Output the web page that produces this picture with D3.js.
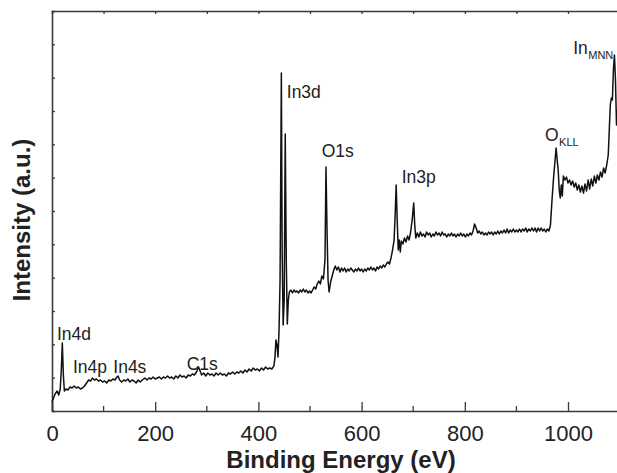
<!DOCTYPE html>
<html>
<head>
<meta charset="utf-8">
<script src="https://cdn.jsdelivr.net/npm/d3@7"></script>
<style>
  html, body { margin: 0; padding: 0; background: #fff; }
  svg { display: block; font-family: "Liberation Sans", Arial, Helvetica, sans-serif; }
</style>
</head>
<body>
<svg id="chart" width="617" height="473"></svg>
<script>
// XPS survey spectrum: binding energy (eV) and intensity (arbitrary units)
const bindingEnergy = [
  0, 3, 6, 10, 13, 16, 18, 20, 22, 24, 27, 31, 35, 39, 43, 47, 51, 55, 59, 63,
  67, 71, 75, 78, 82, 86, 90, 94, 98, 102, 106, 110, 114, 118, 122, 126, 128, 131, 135, 139,
  143, 147, 151, 155, 159, 163, 167, 171, 175, 180, 184, 188, 192, 196, 200, 204, 208, 212, 216, 220,
  224, 228, 232, 236, 240, 244, 248, 252, 256, 260, 264, 268, 272, 276, 280, 284, 287, 290, 294, 298,
  302, 306, 310, 314, 318, 322, 326, 330, 334, 338, 342, 346, 350, 354, 358, 362, 366, 370, 374, 378,
  382, 386, 390, 394, 398, 402, 406, 410, 414, 418, 422, 426, 430, 432, 434, 436, 438, 440, 442, 444.5,
  446, 448, 450, 452, 454, 456, 458, 460, 463, 466, 469, 472, 475, 478, 481, 484, 487, 490, 493, 496,
  499, 502, 505, 508, 511, 514, 517, 520, 523, 526, 529, 531, 533, 535, 537, 540, 543, 546, 549, 552,
  555, 558, 561, 564, 567, 570, 573, 576, 579, 582, 585, 588, 591, 594, 597, 600, 603, 606, 609, 612,
  615, 618, 621, 624, 627, 630, 633, 636, 639, 642, 645, 648, 651, 654, 657, 660, 663, 665, 667, 669,
  671, 673, 675, 677, 680, 683, 686, 689, 692, 695, 698, 701, 703, 705, 708, 711, 714, 717, 720, 723,
  726, 729, 732, 735, 738, 741, 744, 747, 750, 753, 756, 759, 762, 765, 768, 771, 774, 777, 780, 783,
  786, 789, 792, 795, 798, 801, 804, 807, 810, 813, 816, 819, 822, 825, 828, 831, 834, 837, 840, 843,
  846, 849, 852, 855, 858, 861, 864, 867, 870, 873, 876, 879, 882, 885, 888, 891, 894, 897, 900, 903,
  906, 909, 912, 915, 918, 921, 924, 927, 930, 933, 936, 939, 942, 945, 948, 951, 954, 957, 960, 963,
  966, 969, 972, 975, 977, 979, 981, 983, 985, 987, 989, 991, 994, 997, 1000, 1003, 1006, 1009, 1012, 1015,
  1018, 1021, 1024, 1027, 1030, 1033, 1036, 1039, 1042, 1045, 1048, 1051, 1054, 1057, 1060, 1063, 1066, 1069, 1072, 1075,
  1078, 1080, 1082, 1084, 1086, 1088, 1090, 1092, 1094, 1096
];
const intensity = [
  27, 39, 51, 60, 48, 66, 123, 204, 108, 60, 66, 63, 72, 69, 75, 69, 72, 66, 69, 75,
  84, 93, 90, 99, 93, 96, 90, 93, 87, 90, 84, 93, 90, 96, 93, 102, 105, 93, 87, 93,
  90, 96, 87, 93, 90, 84, 93, 87, 93, 99, 93, 99, 96, 102, 96, 99, 102, 96, 102, 99,
  105, 99, 102, 96, 105, 99, 108, 102, 105, 99, 108, 105, 111, 108, 117, 132, 120, 108, 114, 105,
  114, 108, 111, 105, 114, 108, 114, 108, 111, 105, 114, 111, 117, 111, 117, 114, 120, 114, 123, 117,
  126, 120, 129, 123, 126, 120, 129, 123, 132, 126, 129, 126, 135, 159, 213, 198, 162, 243, 393, 1014,
  483, 258, 333, 831, 453, 261, 333, 357, 363, 354, 363, 357, 360, 354, 363, 357, 366, 357, 363, 354,
  360, 354, 363, 372, 366, 381, 390, 381, 405, 396, 453, 732, 543, 393, 357, 387, 405, 423, 435, 423,
  432, 417, 429, 420, 429, 417, 426, 420, 429, 423, 417, 426, 420, 429, 420, 426, 417, 426, 420, 429,
  423, 432, 423, 429, 420, 432, 426, 435, 429, 438, 432, 441, 447, 441, 459, 483, 513, 588, 678, 573,
  483, 513, 477, 510, 501, 519, 507, 525, 513, 537, 573, 624, 558, 519, 534, 522, 537, 525, 531, 522,
  537, 528, 534, 522, 531, 525, 537, 528, 534, 525, 537, 528, 531, 522, 531, 525, 534, 525, 531, 522,
  531, 525, 534, 525, 531, 522, 531, 525, 534, 528, 540, 561, 549, 534, 540, 531, 537, 528, 534, 528,
  537, 531, 537, 528, 537, 531, 540, 531, 540, 534, 543, 534, 546, 534, 543, 537, 546, 537, 543, 537,
  546, 537, 546, 540, 549, 537, 546, 540, 549, 540, 549, 537, 549, 540, 549, 540, 546, 537, 546, 540,
  558, 633, 699, 753, 789, 753, 723, 663, 639, 678, 645, 705, 693, 702, 684, 693, 678, 690, 672, 684,
  663, 678, 657, 675, 654, 681, 660, 693, 666, 696, 675, 705, 684, 708, 693, 717, 702, 729, 714, 738,
  768, 843, 918, 939, 933, 1023, 1068, 993, 858, 903
];

// Axis ticks and peak labels
const xTickValues = [0, 200, 400, 600, 800, 1000];
const xMinorTickValues = [100, 300, 500, 700, 900, 1100];
const peakNames = ["In4d", "In4p", "In4s", "C1s", "In3d", "O1s", "In3p", "O", "In"];
const peakSubscripts = ["", "", "", "", "", "", "", "KLL", "MNN"];
const xTitle = "Binding Energy (eV)";
const yTitle = "Intensity (a.u.)";

const svg = d3.select("#chart");
const margin = { left: 52, top: 11, bottom: 411 };

const x = d3.scaleLinear().domain([0, 1100]).range([margin.left, 619.6]);
const y = d3.scaleLinear().domain([0, 1200]).range([margin.bottom, margin.top]);

const axisColor = "#3a3a3a";

// Bottom axis: major labelled ticks every 200 eV, minor every 100 eV, pointing inward
const xAxis = d3.axisBottom(x).tickValues(xTickValues).tickSize(-9).tickPadding(14).tickFormat(d3.format("d"));
const gx = svg.append("g").attr("transform", `translate(0,${margin.bottom})`).call(xAxis);
gx.selectAll("text").attr("font-size", 22).attr("fill", "#222").attr("font-family", "Liberation Sans, Arial, sans-serif");
gx.append("g").selectAll("line").data(xMinorTickValues.filter(v => x(v) < 617)).join("line")
  .attr("x1", d => x(d)).attr("x2", d => x(d)).attr("y1", 0).attr("y2", -5);

// Top axis: unlabelled inward ticks
const xTop = d3.axisTop(x).tickValues(d3.range(100, 1100, 100)).tickSize(-3).tickFormat("");
const gxt = svg.append("g").attr("transform", `translate(0,${margin.top})`).call(xTop);

// Left axis: unlabelled inward ticks
const yAxis = d3.axisLeft(y).tickValues(d3.range(100, 1200, 100)).tickSize(-3).tickFormat("");
const gy = svg.append("g").attr("transform", `translate(${margin.left},0)`).call(yAxis);

[gx, gxt, gy].forEach(g => {
  g.select(".domain").attr("stroke", axisColor).attr("stroke-width", 1.6);
  g.selectAll("line").attr("stroke", axisColor).attr("stroke-width", 1.3);
});

// Spectrum trace
const line = d3.line().x((d, i) => x(bindingEnergy[i])).y(d => y(d));
svg.append("path")
  .datum(intensity)
  .attr("fill", "none")
  .attr("stroke", "#111")
  .attr("stroke-width", 1.5)
  .attr("stroke-linejoin", "round")
  .attr("d", line);

// Peak labels anchored in data coordinates (eV, intensity)
const labelAnchors = [
  [9.7, 213], [40.7, 114], [118.8, 114], [261, 123], [455, 939],
  [522.7, 762], [677.7, 685], [955.4, 811], [1010, 1070]
];
peakNames.forEach((name, i) => {
  const [ev, val] = labelAnchors[i];
  const t = svg.append("text")
    .attr("x", x(ev)).attr("y", y(val))
    .attr("font-size", 17.5).attr("fill", "#222")
    .text(name);
  if (peakSubscripts[i]) {
    t.append("tspan").attr("font-size", 11).attr("dy", 5).attr("dx", 0.5).text(peakSubscripts[i]);
  }
});

// Axis titles
svg.append("text")
  .attr("x", 341).attr("y", 468)
  .attr("text-anchor", "middle")
  .attr("font-size", 24).attr("font-weight", "bold").attr("fill", "#222")
  .text(xTitle);

svg.append("text")
  .attr("transform", "translate(30,220) rotate(-90)")
  .attr("text-anchor", "middle")
  .attr("font-size", 24).attr("font-weight", "bold").attr("fill", "#222")
  .text(yTitle);
</script>
</body>
</html>
